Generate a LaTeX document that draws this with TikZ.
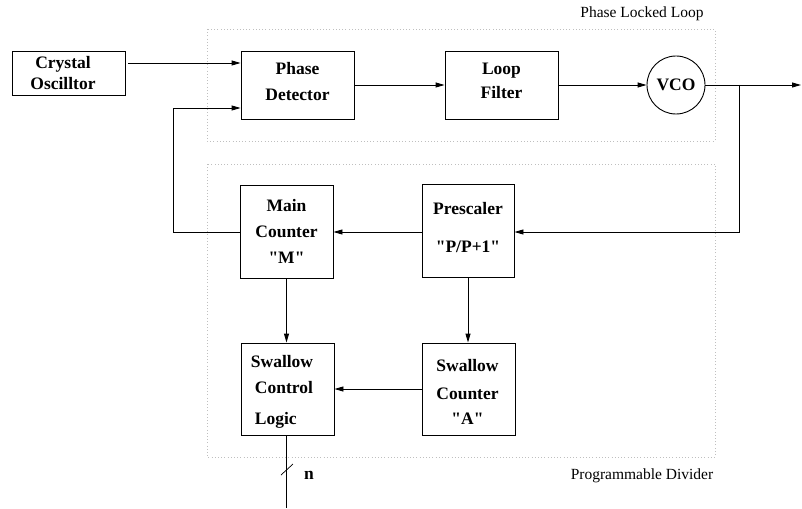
\documentclass[tikz,border=0pt]{standalone}
\usepackage{fontspec}
\setmainfont{Liberation Serif}[Ligatures=TeXOff]
\usetikzlibrary{arrows.meta}
\newcommand{\dq}{{\char34}}
\begin{document}
\begin{tikzpicture}[x=1pt,y=-1pt,
  blk/.style={draw,line width=0.9pt,inner sep=0pt},
  txt/.style={inner sep=0pt,align=center,
    font=\bfseries\fontsize{17.5}{26}\selectfont},
  vco/.style={draw,circle,line width=0.9pt,inner sep=0pt,minimum size=58pt,
    font=\bfseries\fontsize{17.5}{26}\selectfont},
  wire/.style={line width=0.9pt},
  arr/.style={wire,-{Triangle[length=9pt,width=5pt]}},
  region/.style={draw=black!25,line width=0.6pt,dash pattern=on 0.8pt off 2.4pt},
  caption/.style={font=\fontsize{15.5}{18}\selectfont},
  busmark/.style={font=\bfseries\fontsize{17.5}{20}\selectfont}
]
\useasboundingbox (0,0) rectangle (802,508);

% grouping frames
\draw[region] (207,29) rectangle (715,141);
\draw[region] (207,164) rectangle (715,457);
\node[caption] (pllcap) at (642,14) {Phase Locked Loop};
\node[caption] (divcap) at (642,476) {Programmable Divider};

% phase locked loop blocks
\node[blk,minimum width=113pt,minimum height=44pt] (co) at (68.5,73) {};
\node[txt] (cot) at (63,73) {Crystal\\[-5pt]Oscilltor};
\node[blk,minimum width=113pt,minimum height=68pt] (pd) at (297.5,85) {};
\node[txt] (pdt) at (297.5,82) {Phase\\Detector};
\node[blk,minimum width=113pt,minimum height=68pt] (lf) at (501.5,85) {};
\node[txt] (lft) at (501.5,80.5) {Loop\\[-2pt]Filter};
\node[vco] (vco) at (676,85) {VCO};

% divider blocks
\node[blk,minimum width=93pt,minimum height=93pt] (mc) at (286.5,231.5) {};
\node[txt] (mct) at (286.5,231.5) {Main\\Counter\\\dq M\dq};
\node[blk,minimum width=92pt,minimum height=93pt] (ps) at (468,230.5) {};
\node[txt] (pst) at (468,227.5) {Prescaler\\[12pt]\dq P/P+1\dq};
\node[blk,minimum width=93pt,minimum height=92pt] (scl) at (287.5,389) {};
\node[txt,align=left] (sclt) at (282,392)
  {Swallow\\\hspace*{4pt}Control\\[5pt]\hspace*{4pt}Logic};
\node[blk,minimum width=93pt,minimum height=92pt] (sc) at (468.5,389) {};
\node[txt] (sct) at (467.5,392) {Swallow\\[2pt]Counter\\[-1pt]\dq A\dq};

% reference and forward path
\coordinate (coout) at (128,63);
\draw[arr] (coout) -- (pd.west |- coout);
\draw[arr] (pd.east) -- (lf.west);
\draw[arr] (lf.east) -- (vco.west);
\coordinate (out) at (801,85);
\draw[arr] (vco.east) -- (out);

% feedback through the divider
\coordinate (tap) at (739,85);
\coordinate (tapdown) at (739,232);
\draw[arr] (tap) -- (tapdown) -- (ps.east |- tapdown);
\draw[arr] (ps.west |- tapdown) -- (mc.east |- tapdown);
\coordinate (fbcorner) at (173,232);
\coordinate (fbtop) at (173,108);
\draw[arr] (mc.west |- tapdown) -- (fbcorner) -- (fbtop) -- (pd.west |- fbtop);

% counters to swallow logic
\draw[arr] (mc.south) -- (mc.south |- scl.north);
\draw[arr] (ps.south) -- (ps.south |- sc.north);
\draw[arr] (sc.west) -- (scl.east);

% n-bit control bus
\coordinate (busend) at (286,508);
\draw[wire] (scl.south -| busend) -- (busend);
\draw[line width=0.7pt] (281,475) -- (293,464);
\node[busmark] (nlbl) at (309,475) {n};
\end{tikzpicture}
\end{document}
